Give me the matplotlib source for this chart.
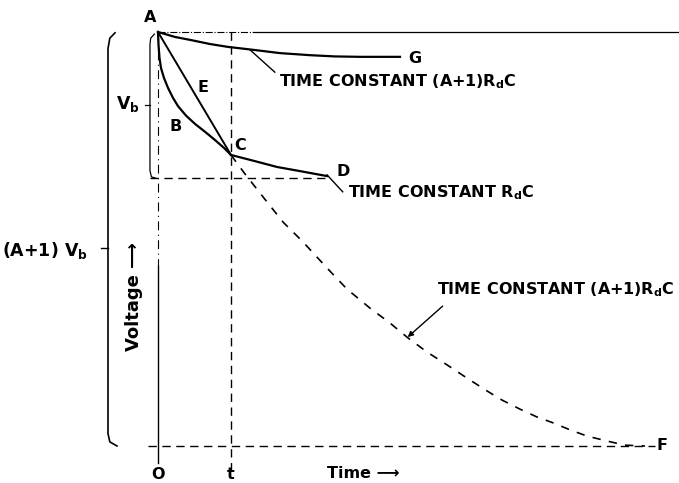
import matplotlib
matplotlib.use("Agg")
import matplotlib.pyplot as plt

# time in units of t, voltage in units of (A+1)Vb
t_mark = 1.0
v_top = 1.0
v_d = 0.647

# A -> G : slow decay, time constant (A+1)RdC
g_t = [0, 0.233, 0.438, 0.712, 0.959, 1.301, 1.671, 2.082, 2.425, 2.767, 3.315]
g_v = [1.0, 0.988, 0.981, 0.971, 0.964, 0.957, 0.949, 0.944, 0.941, 0.940, 0.940]

# A -> B -> C : fast decay
abc_t = [0, 0.007, 0.021, 0.041, 0.082, 0.137, 0.205, 0.274, 0.384,
         0.507, 0.644, 0.781, 0.904, 1.0]
abc_v = [1.0, 0.969, 0.937, 0.913, 0.889, 0.865, 0.841, 0.821, 0.798,
         0.778, 0.759, 0.739, 0.720, 0.703]

# A -> E -> C : straight line
e_t = [0, 1.0]
e_v = [1.0, 0.703]

# C -> D : time constant RdC
cd_t = [1.0, 1.329, 1.630, 1.945, 2.315]
cd_v = [0.703, 0.688, 0.674, 0.664, 0.652]

# C -> F : dashed, time constant (A+1)RdC
cf_t = [1.0, 1.192, 1.397, 1.712, 1.986, 2.315, 2.589, 2.904, 3.178, 3.425,
        3.685, 3.959, 4.233, 4.507, 4.712, 4.959, 5.192, 5.411, 5.644, 5.877,
        6.151, 6.397, 6.671]
cf_v = [0.703, 0.657, 0.611, 0.541, 0.493, 0.430, 0.379, 0.333, 0.297, 0.261,
        0.227, 0.196, 0.164, 0.133, 0.111, 0.089, 0.070, 0.056, 0.039, 0.024,
        0.012, 0.002, 0.0]

fig = plt.figure(figsize=(6.79, 4.83), dpi=100)
ax = fig.add_axes([0, 0, 1, 1])
ax.set_xlim(-158 / 73, 521 / 73)
ax.set_ylim(-37 / 414, 446 / 414)
ax.axis("off")

ink = "black"
font = dict(family="DejaVu Sans", fontweight="bold", color=ink)
fs = 11.5

# reference lines
ax.plot([0, 1.3], [v_top, v_top], color=ink, lw=0.8, ls="-.")
ax.plot([1.3, 7.2], [v_top, v_top], color=ink, lw=0.9)
ax.plot([0, 0], [v_top, 0.435], color=ink, lw=0.8, ls=(0, (8, 4, 1, 4)))
ax.plot([0, 0], [0.435, -0.04], color=ink, lw=1.0)
ax.plot([t_mark, t_mark], [v_top, -0.058], color=ink, lw=1.0, ls=(0, (6, 4)))
ax.plot([-0.11, 2.29], [v_d, v_d], color=ink, lw=1.0, ls=(0, (6, 4)))
ax.plot([-0.14, 6.81], [0, 0], color=ink, lw=1.0, ls=(0, (6, 4)))

# curves
ax.plot(g_t, g_v, color=ink, lw=1.6)
ax.plot(abc_t, abc_v, color=ink, lw=1.6)
ax.plot(e_t, e_v, color=ink, lw=1.4)
ax.plot(cd_t, cd_v, color=ink, lw=1.6)
ax.plot(cf_t, cf_v, color=ink, lw=1.2, ls=(0, (5, 5)))

# brackets
ax.plot([-0.589, -0.66, -0.685, -0.685, -0.66, -0.562],
        [0.998, 0.985, 0.96, 0.03, 0.01, 0.0], color=ink, lw=1.2)
ax.plot([-0.685, -0.781], [0.478, 0.478], color=ink, lw=1.0)
ax.plot([-0.05, -0.10, -0.11, -0.11, -0.09, -0.03],
        [0.995, 0.985, 0.97, 0.665, 0.650, 0.647], color=ink, lw=0.9)
ax.plot([-0.11, -0.178], [0.824, 0.824], color=ink, lw=0.9)

# point labels
pts = [("A", -0.11, 1.034), ("E", 0.616, 0.865), ("B", 0.247, 0.771),
       ("C", 1.123, 0.725), ("G", 3.52, 0.937), ("D", 2.53, 0.662),
       ("F", 6.91, 0.0)]
for name, x, y in pts:
    ax.text(x, y, name, ha="center", va="center", fontsize=fs, **font)

# leaders and annotations
ax.plot([1.26, 1.60], [0.957, 0.903], color=ink, lw=1.0)
ax.text(1.66, 0.879, r"TIME CONSTANT (A+1)R$_\mathbf{d}$C",
        ha="left", va="center", fontsize=fs, **font)
ax.plot([2.315, 2.53], [0.655, 0.614], color=ink, lw=1.0)
ax.text(2.60, 0.611, r"TIME CONSTANT R$_\mathbf{d}$C",
        ha="left", va="center", fontsize=fs, **font)
ax.annotate("", xy=(3.42, 0.263), xytext=(3.90, 0.338),
            arrowprops=dict(arrowstyle="-|>", color=ink, lw=1.0,
                            mutation_scale=8, shrinkA=0, shrinkB=0))
ax.text(3.82, 0.377, r"TIME CONSTANT (A+1)R$_\mathbf{d}$C",
        ha="left", va="center", fontsize=fs, **font)

# axis captions
ax.text(0, -0.068, "O", ha="center", va="center", fontsize=fs, **font)
ax.text(t_mark, -0.068, "t", ha="center", va="center", fontsize=fs, **font)
ax.text(2.81, -0.066, "Time \u27f6", ha="center", va="center", fontsize=11.5, **font)
ax.text(-0.33, 0.36, "Voltage \u27f6", ha="center", va="center",
        rotation=90, fontsize=13, **font)
ax.text(-0.96, 0.473, r"(A+1) V$_\mathbf{b}$", ha="right", va="center",
        fontsize=12.5, **font)
ax.text(-0.41, 0.826, r"V$_\mathbf{b}$", ha="center", va="center",
        fontsize=12.5, **font)

fig.savefig("out.png", dpi=100, facecolor="white")
